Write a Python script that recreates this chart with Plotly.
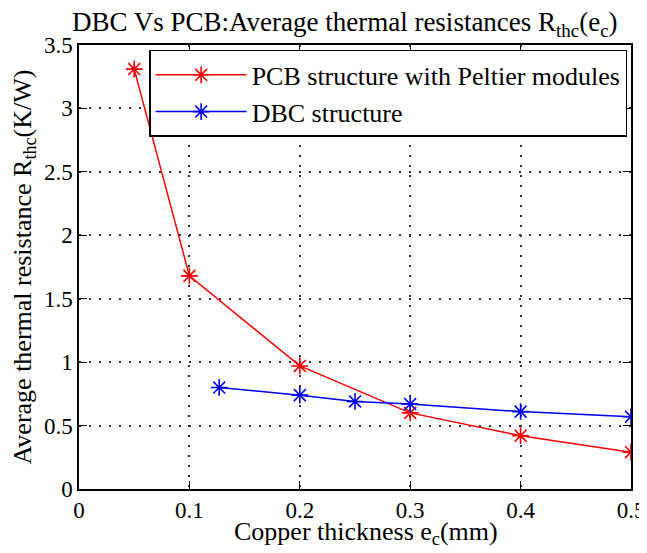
import plotly.graph_objects as go

pcb_x = [0.05, 0.1, 0.2, 0.3, 0.4, 0.5]
pcb_y = [3.31, 1.68, 0.97, 0.60, 0.42, 0.29]

dbc_x = [0.127, 0.2, 0.25, 0.3, 0.4, 0.5]
dbc_y = [0.80, 0.74, 0.69, 0.67, 0.61, 0.57]

x_ticks = [0, 0.1, 0.2, 0.3, 0.4, 0.5]
y_ticks = [0, 0.5, 1, 1.5, 2, 2.5, 3, 3.5]

FONT = "Liberation Serif"

fig = go.Figure()

fig.add_trace(
    go.Scatter(
        x=pcb_x,
        y=pcb_y,
        mode="lines+markers",
        name="PCB structure with Peltier modules",
        line=dict(color="#FF0000", width=1.5),
        marker=dict(symbol="asterisk-open", size=14, line=dict(color="#FF0000", width=1.6)),
    )
)
fig.add_trace(
    go.Scatter(
        x=dbc_x,
        y=dbc_y,
        mode="lines+markers",
        name="DBC structure",
        line=dict(color="#0000FF", width=1.5),
        marker=dict(symbol="asterisk-open", size=14, line=dict(color="#0000FF", width=1.6)),
    )
)

axis_common = dict(
    showline=True,
    linecolor="black",
    linewidth=1.5,
    mirror="ticks",
    ticks="inside",
    ticklen=8,
    tickcolor="black",
    showgrid=True,
    gridcolor="#333333",
    griddash="1.5px,8.5px",
    gridwidth=1.5,
    zeroline=False,
    automargin=False,
    tickfont=dict(family=FONT, size=23, color="black"),
)

# the page body has an 8px margin, so the figure is drawn 8px in from the window edge
fig.update_layout(
    width=639,
    height=545,
    paper_bgcolor="white",
    plot_bgcolor="white",
    font=dict(family=FONT, color="black"),
    margin=dict(l=71, r=16, t=37, b=64),
    title=dict(
        text="DBC Vs PCB:Average thermal resistances R<sub>thc</sub>(e<sub>c</sub>)",
        font=dict(family=FONT, size=27, color="black"),
        x=0.527,
        xanchor="center",
        y=0.975,
        yanchor="middle",
    ),
    xaxis=dict(
        axis_common,
        range=[0, 0.5],
        tickvals=x_ticks,
        ticktext=["0", "0.1", "0.2", "0.3", "0.4", "0.5"],
    ),
    yaxis=dict(
        axis_common,
        range=[0, 3.5],
        tickvals=y_ticks,
        ticktext=["0", "0.5", "1", "1.5", "2", "2.5", "3", "3.5"],
        title=dict(
            text="Average thermal resistance R<sub>thc</sub>(K/W)",
            font=dict(family=FONT, size=26, color="black"),
        ),
    ),
    legend=dict(
        x=0.993,
        xanchor="right",
        y=0.989,
        yanchor="top",
        bgcolor="white",
        bordercolor="black",
        borderwidth=1.5,
        font=dict(family=FONT, size=26, color="black"),
        itemwidth=91,
        tracegroupgap=0,
    ),
)

# x-axis title as an annotation so it can sit as close to the tick labels as in the original
fig.add_annotation(
    text="Copper thickness e<sub>c</sub>(mm)",
    xref="paper",
    yref="paper",
    x=0.52,
    y=-0.1,
    xanchor="center",
    yanchor="middle",
    showarrow=False,
    font=dict(family=FONT, size=26, color="black"),
)

fig.write_html("out.html")
